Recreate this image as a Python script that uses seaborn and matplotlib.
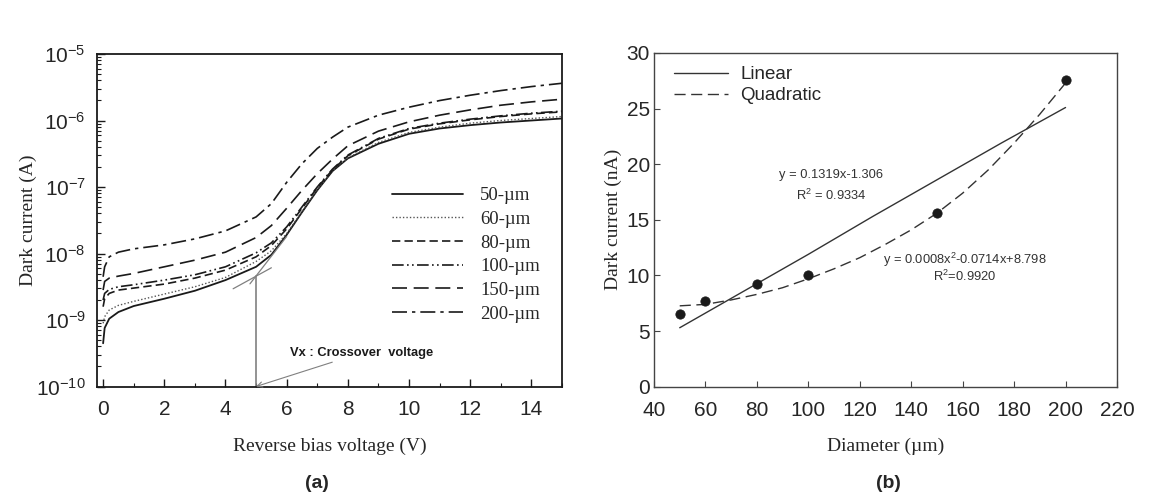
import numpy as np
import pandas as pd
import seaborn as sns
import matplotlib.pyplot as plt
from matplotlib.ticker import MultipleLocator, LogLocator, NullFormatter

sns.set_theme(style='ticks')
plt.rcParams['font.family'] = ['Liberation Sans', 'DejaVu Sans']
plt.rcParams['mathtext.fontset'] = 'custom'
plt.rcParams['mathtext.rm'] = 'Liberation Sans'
plt.rcParams['mathtext.it'] = 'Liberation Sans:italic'
plt.rcParams['mathtext.bf'] = 'Liberation Sans:bold'

voltage = [0, 0.05, 0.2, 0.5, 1, 2, 3, 4, 5, 5.5, 6, 6.5, 7, 7.5, 8, 9, 10, 11, 12, 13, 14, 15]
log_i_50 = [-9.35, -9.12, -8.98, -8.88, -8.79, -8.68, -8.56, -8.40, -8.20, -8.02, -7.72, -7.38,
            -7.05, -6.76, -6.57, -6.35, -6.20, -6.12, -6.07, -6.03, -6.00, -5.97]
log_i_60 = [-9.05, -8.95, -8.85, -8.78, -8.72, -8.61, -8.50, -8.36, -8.12, -7.96, -7.70, -7.37,
            -7.04, -6.75, -6.56, -6.33, -6.18, -6.10, -6.04, -6.00, -5.97, -5.94]
log_i_80 = [-8.80, -8.68, -8.60, -8.55, -8.52, -8.46, -8.37, -8.25, -8.05, -7.88, -7.63, -7.32,
            -7.01, -6.74, -6.53, -6.28, -6.13, -6.05, -5.99, -5.94, -5.90, -5.87]
log_i_100 = [-8.70, -8.60, -8.54, -8.50, -8.47, -8.40, -8.32, -8.20, -7.99, -7.84, -7.60, -7.30,
             -7.00, -6.73, -6.52, -6.27, -6.12, -6.04, -5.98, -5.93, -5.89, -5.86]
log_i_150 = [-8.55, -8.42, -8.37, -8.34, -8.30, -8.20, -8.10, -7.98, -7.76, -7.58, -7.32, -7.05,
             -6.80, -6.58, -6.38, -6.16, -6.02, -5.92, -5.84, -5.77, -5.72, -5.68]
log_i_200 = [-8.35, -8.20, -8.05, -7.98, -7.93, -7.87, -7.78, -7.66, -7.45, -7.25, -6.93, -6.65,
             -6.42, -6.25, -6.10, -5.92, -5.80, -5.70, -5.62, -5.55, -5.49, -5.44]
labels_a = ['50-\u00b5m', '60-\u00b5m', '80-\u00b5m', '100-\u00b5m', '150-\u00b5m', '200-\u00b5m']

# crossover construction lines
tan_low_v = [4.25, 5.5]
tan_low_i = [2.95e-9, 6.1e-9]
tan_high_v = [4.8, 6.0]
tan_high_i = [3.5e-9, 1.8e-8]
vx_v = [5.0, 5.0]
vx_i = [1.0e-10, 4.6e-9]

# (b) dark current vs diameter
diam = [50, 60, 80, 100, 150, 200]
dark_na = [6.5, 7.7, 9.2, 10.0, 15.6, 27.6]
lin_x = [50, 75, 100, 125, 150, 175, 200]
lin_y = [5.3, 8.6, 11.9, 15.3, 18.6, 21.9, 25.1]
quad_x = [50, 60, 70, 80, 90, 100, 110, 120, 130, 140, 150, 160, 170, 180, 190, 200]
quad_y = [7.27, 7.4, 7.8, 8.3, 8.9, 9.7, 10.6, 11.6, 12.8, 14.1, 15.6, 17.4, 19.5, 21.9, 24.5, 27.3]

W, H = 1164, 504
fig = plt.figure(figsize=(W / 100, H / 100), dpi=100)
ax1 = fig.add_axes([97 / W, 1 - 386.5 / H, 465 / W, 332.5 / H])
ax2 = fig.add_axes([654 / W, 1 - 386.7 / H, 463 / W, 333.7 / H])

# ---- panel (a)
series = [log_i_50, log_i_60, log_i_80, log_i_100, log_i_150, log_i_200]
styles = ['-', (0, (1, 1.5)), (0, (5, 2.5)), (0, (7, 2, 1, 2, 1, 2)), (0, (9, 4)), (0, (9, 3, 2, 3))]
colors = ['k', '#555555', 'k', 'k', 'k', 'k']
widths = [1.3, 1.0, 1.2, 1.2, 1.2, 1.2]
for lg, lab, ls, c, lw in zip(series, labels_a, styles, colors, widths):
    df = pd.DataFrame({'V': voltage, 'I': np.power(10.0, lg)})
    sns.lineplot(data=df, x='V', y='I', ax=ax1, color=c, linestyle=ls, lw=lw, label=lab)

ax1.set_yscale('log')
ax1.plot(tan_low_v, tan_low_i, color='gray', lw=0.9)
ax1.plot(tan_high_v, tan_high_i, color='gray', lw=0.9)
ax1.plot(vx_v, vx_i, color='gray', lw=1.2)
ax1.annotate('Vx : Crossover  voltage', xy=(5.0, 1.0e-10), xytext=(6.1, 3.2e-10),
             fontsize=9.3, fontweight='bold', va='center', color='k',
             arrowprops=dict(arrowstyle='->', color='gray', lw=0.8, shrinkA=0, shrinkB=0))

ax1.set_xlim(-0.2, 15)
ax1.set_ylim(1e-10, 1e-5)
ax1.xaxis.set_major_locator(MultipleLocator(2))
ax1.xaxis.set_minor_locator(MultipleLocator(1))
ax1.yaxis.set_major_locator(LogLocator(base=10, numticks=10))
ax1.yaxis.set_minor_locator(LogLocator(base=10, subs=np.arange(2, 10), numticks=10))
ax1.yaxis.set_minor_formatter(NullFormatter())
ax1.tick_params(which='both', direction='in', top=False, right=False, labelsize=15, color='k')
ax1.tick_params(which='major', length=6, width=1)
ax1.tick_params(which='minor', length=3, width=0.8)
ax1.tick_params(axis='x', pad=10)
ax1.tick_params(axis='y', pad=8)
for s in ax1.spines.values():
    s.set_color('k')
    s.set_linewidth(1.3)
ax1.set_xlabel('Reverse bias voltage (V)', fontsize=14, family='Liberation Serif')
ax1.set_ylabel('Dark current (A)', fontsize=14, family='Liberation Serif')
ax1.xaxis.set_label_coords(0.5, -0.155)
ax1.yaxis.set_label_coords(-0.129, 0.5)
ax1.legend(loc='upper left', bbox_to_anchor=(0.634, 0.60), frameon=False, borderpad=0,
           borderaxespad=0, handlelength=3.8, handletextpad=0.9, labelspacing=0.35,
           prop={'family': 'Liberation Serif', 'size': 13.5})

# ---- panel (b)
sns.lineplot(x=lin_x, y=lin_y, ax=ax2, color='#333333', lw=1.0, label='Linear')
sns.lineplot(x=quad_x, y=quad_y, ax=ax2, color='#333333', lw=1.0, linestyle=(0, (8, 4)),
             label='Quadratic')
sns.scatterplot(x=diam, y=dark_na, ax=ax2, color='k', s=45, edgecolor='k', zorder=3)

ax2.text(108.8, 19.0, 'y = 0.1319x-1.306', fontsize=9.3, color='#333333', ha='center', va='center')
ax2.text(108.8, 17.2, 'R$^{2}$ = 0.9334', fontsize=9.3, color='#333333', ha='center', va='center')
ax2.text(160.8, 11.4, 'y = 0.0008x$^{2}$-0.0714x+8.798', fontsize=9.3, color='#333333',
         ha='center', va='center')
ax2.text(160.8, 9.95, 'R$^{2}$=0.9920', fontsize=9.3, color='#333333', ha='center', va='center')

ax2.set_xlim(40, 220)
ax2.set_ylim(0, 30)
ax2.xaxis.set_major_locator(MultipleLocator(20))
ax2.yaxis.set_major_locator(MultipleLocator(5))
ax2.tick_params(which='both', direction='in', top=False, right=False, labelsize=15,
                length=4, width=0.8, color='#444444')
ax2.tick_params(axis='x', pad=10)
ax2.tick_params(axis='y', pad=3)
for s in ax2.spines.values():
    s.set_color('#444444')
    s.set_linewidth(1.0)
ax2.set_xlabel('Diameter (\u00b5m)', fontsize=14, family='Liberation Serif')
ax2.set_ylabel('Dark current (nA)', fontsize=14, family='Liberation Serif')
ax2.xaxis.set_label_coords(0.5, -0.154)
ax2.yaxis.set_label_coords(-0.069, 0.5)
ax2.legend(loc='upper left', bbox_to_anchor=(0.0425, 0.96), frameon=False, borderpad=0,
           borderaxespad=0, handlelength=2.9, handletextpad=0.65, labelspacing=0.19,
           prop={'size': 13.5})

fig.text(317 / W, 1 - 483 / H, '(a)', fontsize=14, fontweight='bold', ha='center', va='center')
fig.text(888 / W, 1 - 483 / H, '(b)', fontsize=14, fontweight='bold', ha='center', va='center')

fig.savefig('out.png', dpi=100, facecolor='white')
